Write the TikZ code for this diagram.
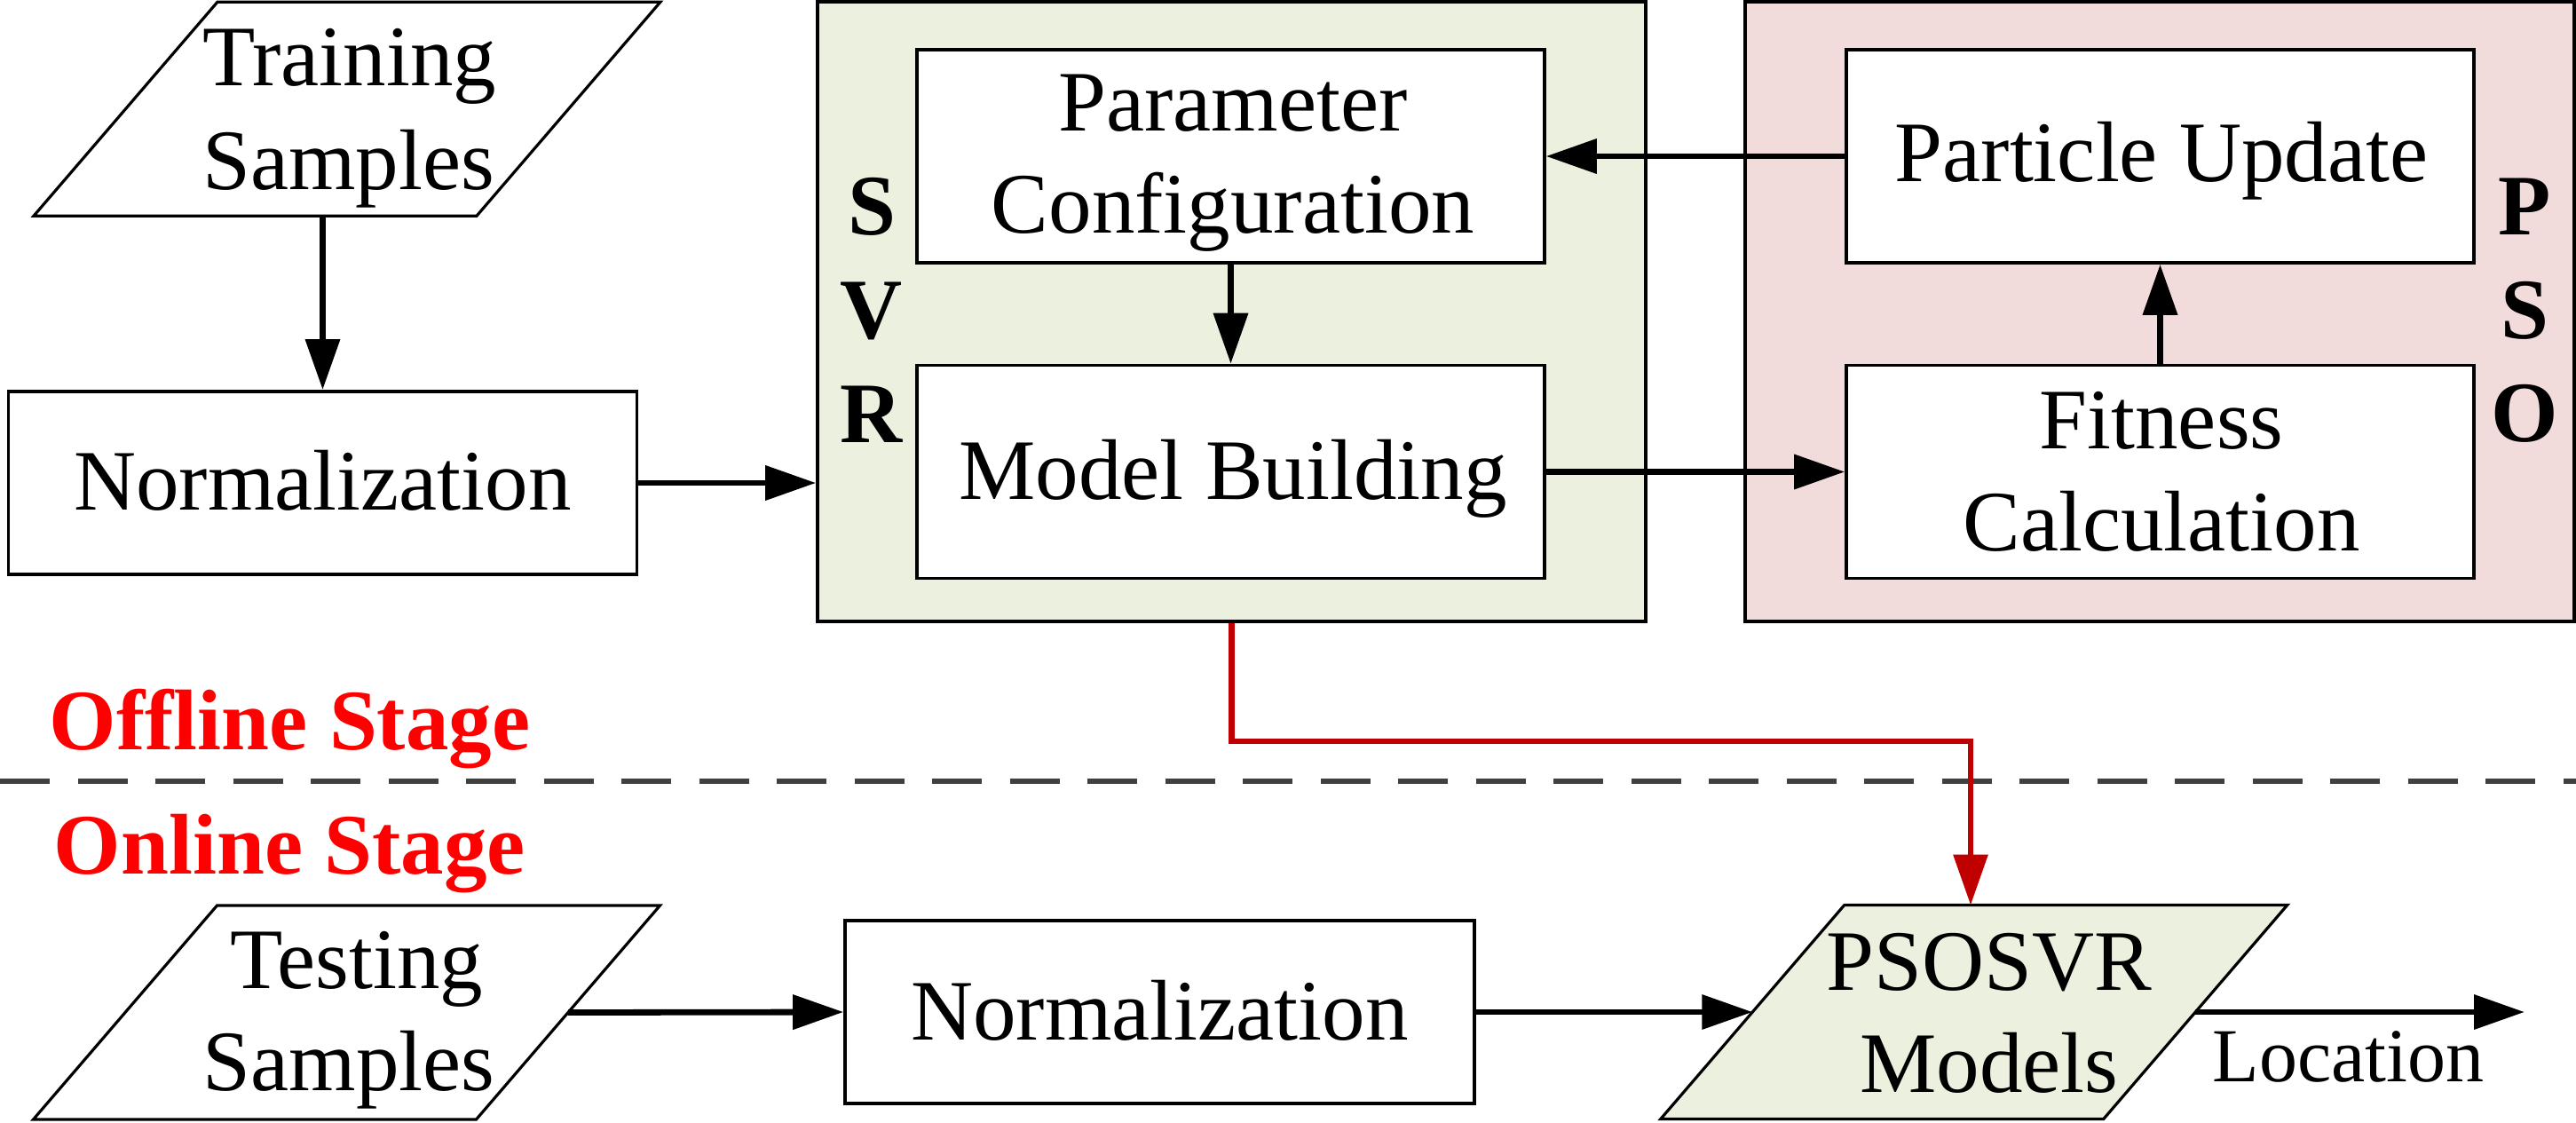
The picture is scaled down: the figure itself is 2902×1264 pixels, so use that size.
\documentclass[tikz,border=0pt]{standalone}
\usepackage{fontspec}
\setmainfont{Liberation Serif}
\usetikzlibrary{arrows.meta,calc}
\definecolor{svrgreen}{HTML}{EBF1DE}
\definecolor{psopink}{HTML}{F2DCDB}
\definecolor{redline}{HTML}{C00000}
\definecolor{redtext}{HTML}{FF0000}
\definecolor{dashgray}{HTML}{404040}
\newcommand\mainsize{\fontsize{24.25pt}{29pt}\selectfont}
\begin{document}
\begin{tikzpicture}[x=0.25pt,y=-0.25pt,
  container/.style={draw=black,line width=0.9pt,inner sep=0pt,minimum width=233.25pt,minimum height=174.5pt},
  box/.style={draw=black,fill=white,line width=0.9pt,inner sep=0pt,minimum width=176.75pt,minimum height=60pt},
  lbl/.style={inner sep=0pt,anchor=base,font=\mainsize},
  paraline/.style={draw=black,line width=0.8pt},
  arr/.style={-{Triangle[length=14.25pt,width=9.5pt]},line width=1.7pt,draw=black},
  redarr/.style={-{Triangle[length=14.25pt,width=9.5pt]},line width=1.6pt,draw=redline},
  stage/.style={anchor=base west,inner sep=0pt,font=\mainsize\bfseries,text=redtext},
  sidelbl/.style={inner sep=0pt,anchor=base,font=\mainsize\bfseries}]
\useasboundingbox (0,0) rectangle (2902,1264);

% containers
\node[container,fill=svrgreen] (svr) at (1387.5,351) {};
\node[container,fill=psopink,minimum width=233.5pt] (pso) at (2433,351) {};

% dashed separator
\coordinate (dashL) at (0,880);
\coordinate (dashR) at (2902,880);
\draw[dashgray,line width=1.3pt,dash pattern=on 14pt off 7.875pt] (dashL) -- (dashR);

% training samples parallelogram
\coordinate (train) at (391,122.7);
\draw[paraline,fill=white] ($(train)+(-146,-120.5)$) -- ($(train)+(353,-120.5)$) -- ($(train)+(146,120.5)$) -- ($(train)+(-353,120.5)$) -- cycle;
\node[lbl] (traintxt1) at (394,96.4) {Training};
\node[lbl] (traintxt2) at (392.5,213.5) {Samples};
\coordinate (train-b) at ($(train)+(0,120.5)$);

% boxes
\node[box,minimum width=177pt,minimum height=51.6pt] (norm1) at (363.5,544) {};
\node[lbl] (norm1txt) at (363.5,574) {Normalization};
\node[box] (param) at (1386.5,176) {};
\node[lbl] (paramtxt1) at (1389,147) {Parameter};
\node[lbl] (paramtxt2) at (1389,262) {Configuration};
\node[box] (model) at (1386.5,531.5) {};
\node[lbl] (modeltxt) at (1389,562.5) {Model Building};
\node[box] (particle) at (2433.5,176) {};
\node[lbl] (particletxt) at (2435,204.3) {Particle Update};
\node[box] (fitness) at (2433.5,531.5) {};
\node[lbl] (fitnesstxt1) at (2435,505) {Fitness};
\node[lbl] (fitnesstxt2) at (2435,620) {Calculation};

% side labels
\node[sidelbl] (svrS) at (982,264) {S};
\node[sidelbl] (svrV) at (982,381) {V};
\node[sidelbl] (svrR) at (982,498) {R};
\node[sidelbl] (psoP) at (2844,264) {P};
\node[sidelbl] (psoS) at (2844,381) {S};
\node[sidelbl] (psoO) at (2844,497) {O};

% stage labels
\node[stage] (offline) at (55,844) {Offline Stage};
\node[stage] (online) at (60,984) {Online Stage};

% testing samples parallelogram
\coordinate (test) at (390.5,1140.5);
\draw[paraline,fill=white] ($(test)+(-146,-120.5)$) -- ($(test)+(353,-120.5)$) -- ($(test)+(146,120.5)$) -- ($(test)+(-353,120.5)$) -- cycle;
\node[lbl] (testtxt1) at (402,1113.7) {Testing};
\node[lbl] (testtxt2) at (393,1228.8) {Samples};
\coordinate (test-e) at ($(test)+(249.5,0)$);

\node[box,minimum width=177.25pt,minimum height=51.5pt] (norm2) at (1306.5,1140) {};
\node[lbl] (norm2txt) at (1306.5,1171) {Normalization};

% PSOSVR models parallelogram
\coordinate (psosvr) at (2223.75,1140);
\draw[paraline,fill=svrgreen] ($(psosvr)+(-146,-120.5)$) -- ($(psosvr)+(353,-120.5)$) -- ($(psosvr)+(146,120.5)$) -- ($(psosvr)+(-353,120.5)$) -- cycle;
\node[lbl] (psosvrtxt1) at (2241,1115.5) {PSOSVR};
\node[lbl] (psosvrtxt2) at (2241,1230.6) {Models};
\coordinate (psosvr-w) at ($(psosvr)+(-249.5,0)$);
\coordinate (psosvr-e) at ($(psosvr)+(249.5,0)$);
\coordinate (redin) at (2220,1019.5);
\coordinate (locend) at (2844,1140);
\node[anchor=base west,inner sep=0pt,font=\fontsize{21.5pt}{26pt}\selectfont] (loc) at (2492,1218) {Location};

% connectors
\draw[arr] (norm1.north |- train-b) -- (norm1.north);
\draw[arr] (norm1.east) -- (norm1.east -| svr.west);
\draw[arr] (param.south) -- (model.north);
\draw[arr] (model.east) -- (fitness.west);
\draw[arr] (fitness.north) -- (particle.south);
\draw[arr] (particle.west) -- (param.east);
\draw[redarr] (svr.south) -- ++(0,133) -| (redin);
\draw[arr] (test-e) -- (norm2.west);
\draw[arr] (norm2.east) -- (psosvr-w);
\draw[arr] (psosvr-e) -- (locend);
\end{tikzpicture}
\end{document}
